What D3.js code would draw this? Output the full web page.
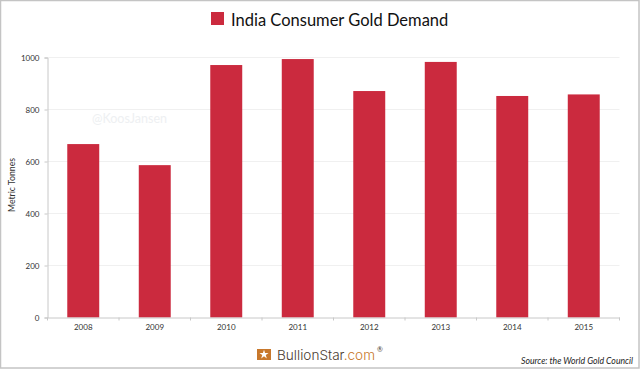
<!DOCTYPE html>
<html><head><meta charset="utf-8">
<script src="https://cdn.jsdelivr.net/npm/d3@7"></script>
<style>html,body{margin:0;padding:0;background:#fff}svg{display:block}text{font-family:Lato,sans-serif}text.logo{font-family:Inter,sans-serif}</style>
</head><body><svg id="c" width="640" height="369"></svg>
<script>
const years = ["2008","2009","2010","2011","2012","2013","2014","2015"];
const demand = [667,586,971,994,871,983,852,858];
const yTicks = [0,200,400,600,800,1000];
const titleText = "India Consumer Gold Demand";
const yLabel = "Metric Tonnes";
const sourceText = "Source: the World Gold Council";
const watermark = "@KoosJansen";
const red = "#cb2a3e";

const svg = d3.select("#c");
const m = {l:47.5, r:619.5, t:57.5, b:317.5};
const x = d3.scaleBand().domain(years).range([m.l,m.r]).paddingInner(0.553).paddingOuter(0.2765);
const band = d3.scaleBand().domain(years).range([m.l,m.r]);
const y = d3.scaleLinear().domain([0,1000]).range([m.b,m.t]);

svg.append("rect").attr("x",0.5).attr("y",0.5).attr("width",638.5).attr("height",367.5)
  .attr("fill","#fff").attr("stroke","#c4c4c4").attr("stroke-width",1.5);

svg.append("g").selectAll("line").data(yTicks.slice(1)).join("line")
  .attr("x1",m.l).attr("x2",m.r).attr("y1",d=>y(d)).attr("y2",d=>y(d))
  .attr("stroke","#f0f0f0");

svg.append("text").attr("x",92).attr("y",123).attr("font-size",12.5).attr("fill","#eef0f2").text(watermark);

svg.append("g").selectAll("rect").data(years).join("rect")
  .attr("x",d=>x(d)).attr("width",x.bandwidth())
  .attr("y",(d,i)=>y(demand[i])).attr("height",(d,i)=>y(0)-y(demand[i]))
  .attr("fill",red);

const gy = svg.append("g").attr("transform",`translate(${m.l},0)`)
  .call(d3.axisLeft(y).tickValues(yTicks).tickFormat(d3.format("d")).tickSize(3).tickPadding(5));
const gx = svg.append("g").attr("transform",`translate(0,${m.b})`)
  .call(d3.axisBottom(band).tickSize(0).tickPadding(7));
gx.selectAll(".edge").data(d3.range(years.length+1)).join("line").attr("class","edge")
  .attr("x1",i=>m.l+i*band.step()).attr("x2",i=>m.l+i*band.step()).attr("y1",0).attr("y2",3).attr("stroke","#c8c8c8");
[gx,gy].forEach(g=>{
  g.selectAll("path.domain").attr("stroke","#c8c8c8");
  g.selectAll(".tick line").attr("stroke","#c8c8c8");
  g.selectAll("text").attr("font-size",8).attr("fill","#333").attr("font-family",null);
});

svg.append("text").attr("transform","translate(15,185) rotate(-90)").attr("text-anchor","middle")
  .attr("font-size",8.7).attr("fill","#333").text(yLabel);

svg.append("rect").attr("x",211).attr("y",12).attr("width",13).attr("height",13).attr("fill",red);
svg.append("text").attr("x",231).attr("y",26).attr("font-size",16.5).attr("fill","#111").text(titleText);

// logo
const logo = svg.append("g");
logo.append("rect").attr("x",257).attr("y",349).attr("width",14).attr("height",11).attr("fill","#c8782c");
logo.append("path").attr("transform","translate(264,354.5)")
  .attr("d",d3.symbol(d3.symbolStar,26)()).attr("fill","#fff");
const lt = logo.append("text").attr("class","logo").attr("x",277).attr("y",360).attr("font-size",13.6).attr("font-weight",300);
lt.append("tspan").attr("fill","#4a3b30").text("BullionStar");
lt.append("tspan").attr("fill","#c8782c").text(".com");
logo.append("text").attr("x",377).attr("y",352).attr("font-size",7).attr("fill","#4a3b30").text("®");

svg.append("text").attr("x",633).attr("y",364).attr("text-anchor","end")
  .attr("font-size",8.7).attr("font-style","italic").attr("fill","#222").text(sourceText);
</script></body></html>
